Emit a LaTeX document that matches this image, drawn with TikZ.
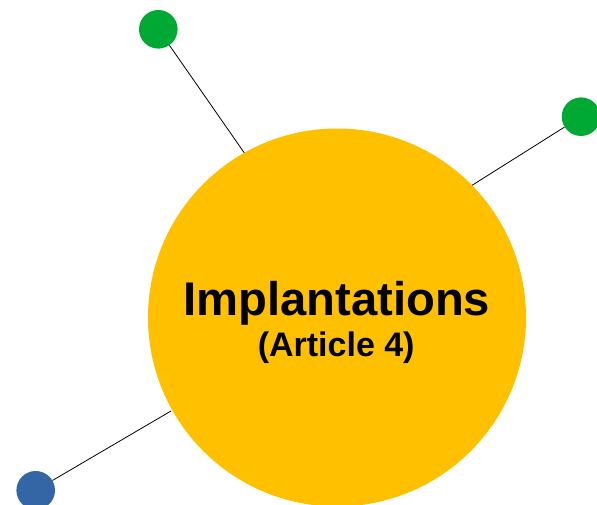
\documentclass[tikz,border=0pt]{standalone}
\usepackage{fontspec}
\setmainfont{Liberation Sans}
\definecolor{yel}{HTML}{FFC000}
\definecolor{grn}{HTML}{00A933}
\definecolor{blu}{HTML}{3465A4}
\tikzset{
  dot/.style={circle, minimum size=38.6pt, inner sep=0pt, draw=none},
  link/.style={draw=black, line width=0.8pt},
}
\begin{document}
\begin{tikzpicture}[x=1pt, y=-1pt]
\clip (0,0) rectangle (597,505);
\useasboundingbox (0,0) rectangle (597,505);
\node[dot, fill=grn] (g1) at (158.3,29.3) {};
\node[dot, fill=grn] (g2) at (581,116.7) {};
\node[dot, fill=blu] (b1) at (35.7,490.3) {};
\coordinate (e1) at (247.5,157.5);
\coordinate (e2) at (470,186.6);
\coordinate (e3) at (171,411);
\draw[link] (g1) -- (e1);
\draw[link] (g2) -- (e2);
\draw[link] (b1) -- (e3);
\node[circle, fill=yel, minimum size=378pt, inner sep=0pt] (big) at (337,317.5) {};
\node[font=\bfseries\fontsize{47.2}{56}\selectfont, anchor=base] (t1) at (336.7,315.7) {Implantations};
\node[font=\bfseries\fontsize{34}{40}\selectfont, anchor=base] (t2) at (336.2,356.7) {(Article 4)};
\end{tikzpicture}
\end{document}
